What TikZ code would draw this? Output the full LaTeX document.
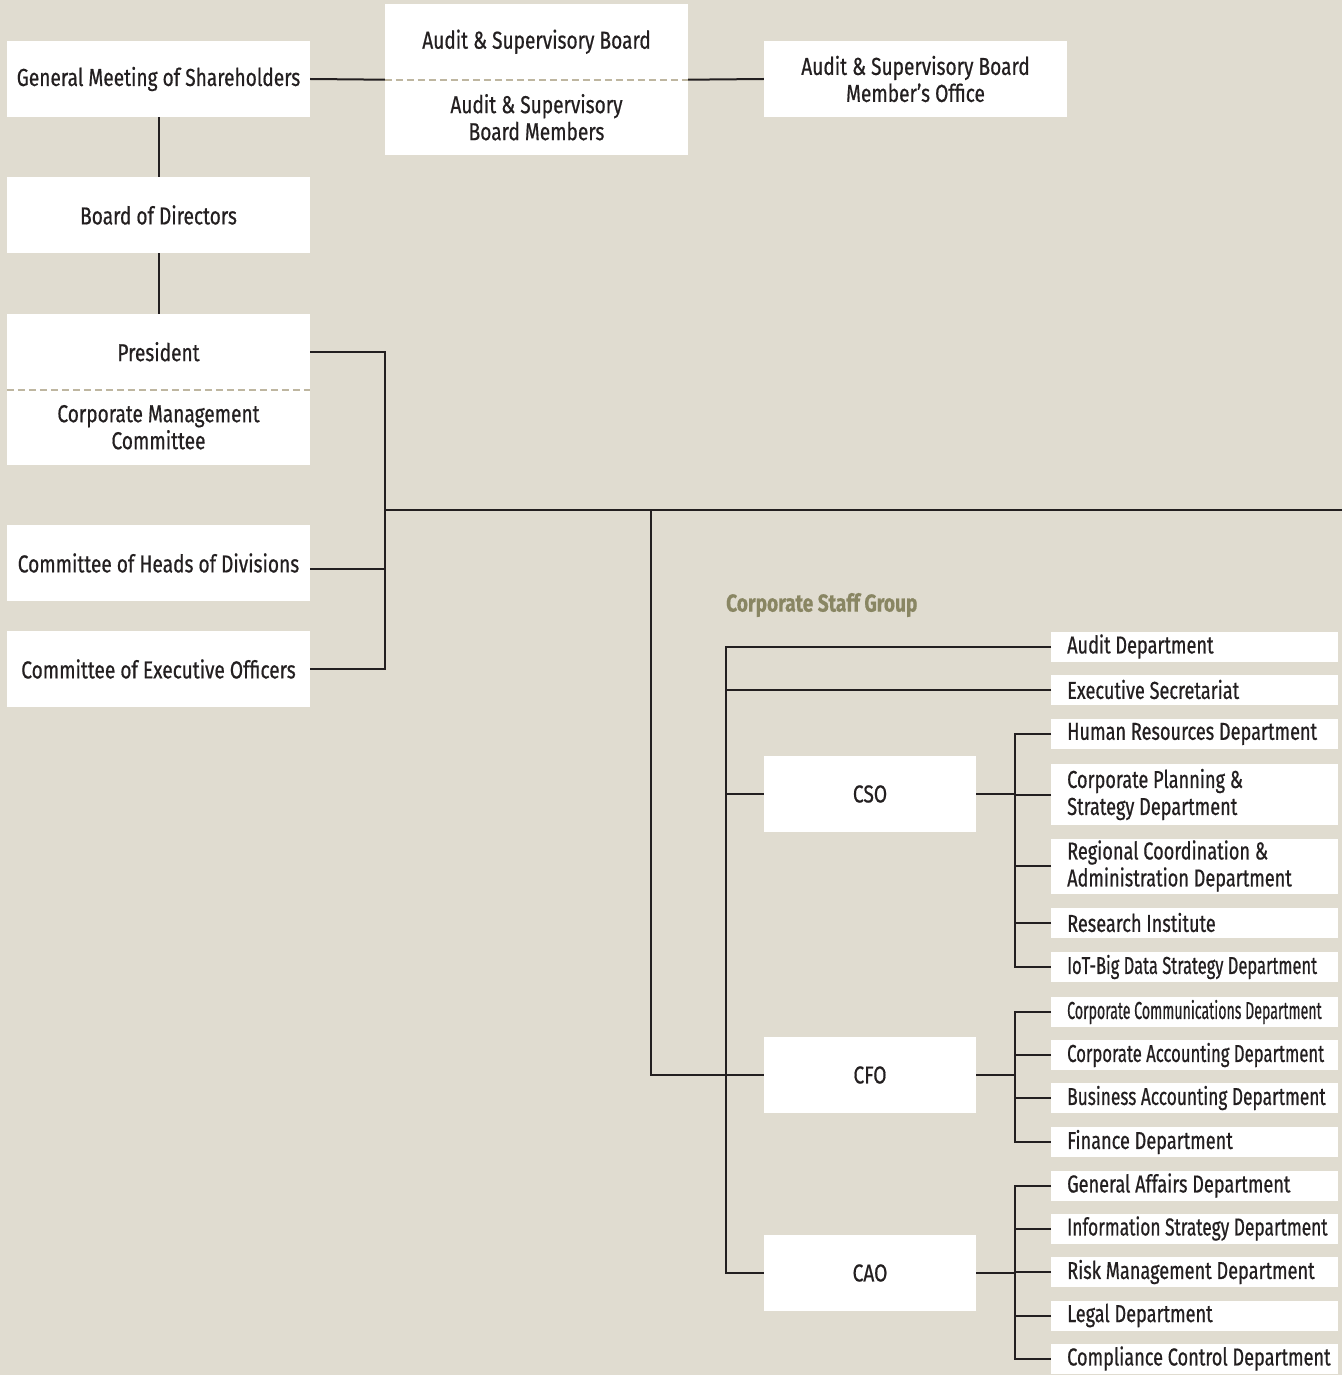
\documentclass[tikz,border=0pt]{standalone}
\usepackage{fontspec}
\setmainfont{Fira Sans}[FakeStretch=0.78,FakeBold=0.6]
\newfontfamily\deptfamily{Fira Sans}[FakeStretch=0.74,FakeBold=0.6]
\definecolor{bgtan}{RGB}{224,220,208}
\definecolor{inkline}{RGB}{35,31,32}
\definecolor{dashtan}{RGB}{190,182,160}
\definecolor{olive}{RGB}{137,134,99}
\newcommand\orgfont{\fontsize{24.5}{27}\selectfont}
\newcommand\squeeze[2]{\scalebox{#1}[1]{#2}}
\tikzset{
  box/.style={fill=white,minimum width=303pt,minimum height=76pt,inner sep=0pt,align=center,text=inkline,font=\orgfont},
  halfbox/.style={box,minimum height=75.5pt},
  chief/.style={box,minimum width=212pt},
  dept/.style={fill=white,anchor=west,text width=283pt,inner xsep=2pt,inner ysep=0pt,minimum height=30pt,
    align=flush left,text=inkline,font=\deptfamily\orgfont,
    execute at begin node={\leftskip=14pt\rightskip=-30pt plus 1fil\hyphenpenalty=10000}},
  link/.style={draw=inkline,line width=2pt},
  divider/.style={draw=dashtan,line width=2pt,dash pattern=on 7pt off 4pt},
  grouplabel/.style={text=olive,font=\orgfont\bfseries,inner sep=0pt,anchor=west}
}
\begin{document}
\begin{tikzpicture}[x=1pt,y=-1pt]
\useasboundingbox[fill=bgtan] (0,0) rectangle (1342,1375);
% governance
\node[box] (gms) at (158.5,79) {General Meeting of Shareholders};
\node[halfbox] (asbt) at (536.5,41.75) {Audit \& Supervisory Board};
\node[halfbox] (asbm) at (536.5,117.25) {Audit \& Supervisory\\ Board Members};
\node[box] (office) at (915.5,79) {Audit \& Supervisory Board\\ Member's Office};
\node[box] (bod) at (158.5,215) {Board of Directors};
\node[halfbox] (prest) at (158.5,351.75) {President};
\node[halfbox] (cmc) at (158.5,427.25) {Corporate Management\\ Committee};
\node[box] (heads) at (158.5,563) {Committee of Heads of Divisions};
\node[box] (coe) at (158.5,669) {Committee of Executive Officers};
\draw[divider] (asbt.south west) -- (asbt.south east);
\draw[divider] (prest.south west) -- (prest.south east);
\draw[link] (gms.east) -- (asbt.south west);
\draw[link] (asbt.south east) -- (office.west);
\draw[link] (gms) -- (bod);
\draw[link] (bod) -- (prest);
\coordinate (pbus) at (385,669);
\coordinate (pjoin) at (385,510);
\coordinate (rimend) at (1342,510);
\coordinate (gbus) at (651,510);
\draw[link] (prest.east) -| (pbus) -- (coe.east);
\draw[link] ([yshift=-6pt]heads.east) -- ([yshift=-6pt]heads.east -| pbus);
\draw[link] (pjoin) -- (rimend);
% corporate staff group
\node[grouplabel] (staff) at (726,605) {Corporate Staff Group};
\node[chief] (cso) at (870,794) {CSO};
\node[chief] (cfo) at (870,1075) {CFO};
\node[chief] (cao) at (870,1273) {CAO};
\node[dept] (audit) at (1051,646.5) {Audit Department};
\node[dept] (execsec) at (1051,689.5) {Executive Secretariat};
\node[dept] (hr) at (1051,734) {Human Resources Department};
\node[dept,minimum height=61pt] (cps) at (1051,794.5) {Corporate Planning \&\\ Strategy Department};
\node[dept,minimum height=55pt] (rca) at (1051,866) {Regional Coordination \&\\ Administration Department};
\node[dept] (ri) at (1051,922.5) {Research Institute};
\node[dept] (iot) at (1051,967) {\squeeze{0.91}{IoT-Big Data Strategy Department}};
\node[dept] (ccd) at (1051,1012) {\squeeze{0.78}{Corporate Communications Department}};
\node[dept] (cad) at (1051,1055) {\squeeze{0.92}{Corporate Accounting Department}};
\node[dept] (bad) at (1051,1098) {\squeeze{0.955}{Business Accounting Department}};
\node[dept] (fin) at (1051,1142) {Finance Department};
\node[dept] (gad) at (1051,1185.5) {General Affairs Department};
\node[dept] (isd) at (1051,1228.5) {\squeeze{0.955}{Information Strategy Department}};
\node[dept] (rmd) at (1051,1272) {Risk Management Department};
\node[dept] (legal) at (1051,1315.5) {Legal Department};
\node[dept] (ccon) at (1051,1358.5) {Compliance Control Department};
\coordinate (sbus) at (726,0);
\coordinate (subbus) at (1015,0);
\draw[link] (gbus) |- (cfo.west);
\draw[link] (audit.west) -| (sbus |- cao.west) -- (cao.west);
\foreach \n in {execsec,cso}
  \draw[link] (\n.west) -- (\n.west -| sbus);
% chief officers to departments
\draw[link] (hr.west) -| (subbus |- iot.west) -- (iot.west);
\draw[link] (ccd.west) -| (subbus |- fin.west) -- (fin.west);
\draw[link] (gad.west) -| (subbus |- ccon.west) -- (ccon.west);
\foreach \n in {cps,rca,ri,cad,bad,isd,rmd,legal}
  \draw[link] (\n.west) -- (\n.west -| subbus);
\foreach \n in {cso,cfo,cao}
  \draw[link] (\n.east) -- (\n.east -| subbus);
\end{tikzpicture}
\end{document}
